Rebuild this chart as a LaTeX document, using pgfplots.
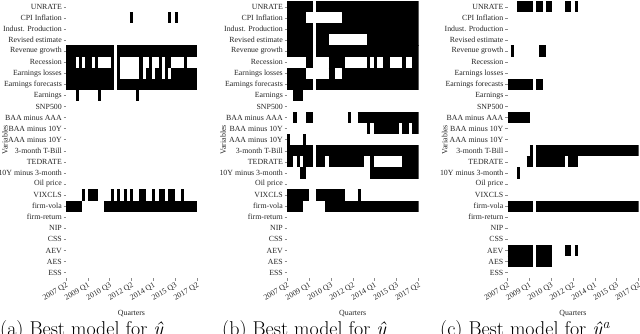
\documentclass[border=0pt]{standalone}
\usepackage{fontspec}
\usepackage{pgfplots}
\pgfplotsset{compat=1.18}
\newfontfamily\tnr{Liberation Serif}

% runs of selected quarters: x = first quarter (0 = 2007 Q2), y = variable row, u = length
\pgfplotstableread{
x y u
20 23 1
32 23 1
34 23 1
0 20 15
16 20 25
0 19 3
4 19 1
6 19 2
9 19 1
14 19 1
16 19 1
23 19 1
26 19 1
29 19 1
31 19 2
37 19 1
0 18 15
16 18 1
23 18 1
25 18 2
28 18 2
31 18 1
33 18 8
0 17 15
16 17 25
3 16 1
10 16 1
22 16 1
5 7 1
7 7 3
14 7 1
16 7 1
18 7 1
20 7 1
23 7 2
27 7 1
29 7 2
32 7 2
36 7 1
0 6 5
12 6 29
}\runsA

\pgfplotstableread{
x y u
0 24 8
9 24 32
0 23 6
17 23 24
0 22 8
9 22 32
0 21 8
9 21 4
25 21 16
0 20 8
9 20 32
6 19 2
13 19 5
25 19 1
27 19 1
30 19 2
36 19 1
39 19 2
0 18 6
13 18 2
17 18 24
0 17 8
9 17 32
2 16 3
2 14 1
6 14 2
19 14 1
22 14 19
25 13 1
27 13 8
36 13 2
39 13 2
0 12 1
5 12 1
0 11 8
9 11 32
0 10 2
3 10 1
5 10 3
9 10 3
13 10 11
26 10 1
36 10 5
4 9 2
26 9 15
0 7 7
9 7 9
22 7 1
0 6 5
12 6 29
}\runsB

\pgfplotstableread{
x y u
3 24 5
9 24 2
12 24 2
18 24 2
21 24 1
1 20 1
10 20 2
0 17 8
9 17 2
0 14 7
7 11 1
9 11 32
6 10 2
9 10 9
19 10 3
3 9 1
0 6 8
9 6 32
0 2 8
9 2 5
18 2 2
21 2 1
0 1 8
9 1 5
}\runsC

\pgfplotsset{
  selmap/.style={
    scale only axis, width=131bp, height=277bp,
    xmin=0, xmax=41, ymin=-0.5, ymax=24.5,
    axis lines*=left, axis line style={draw=none},
    xtick={0,6.8333,13.6667,20.5,27.3333,34.1667,41},
    xticklabels={2007 Q2,2009 Q1,2010 Q3,2012 Q2,2014 Q1,2015 Q3,2017 Q2},
    ytick={0,...,24},
    yticklabels={ESS,AES,AEV,CSS,NIP,firm-return,firm-vola,VIXCLS,Oil price,10Y minus 3-month,TEDRATE,3-month T-Bill,AAA minus 10Y,BAA minus 10Y,BAA minus AAA,SNP500,Earnings,Earnings forecasts,Earnings losses,Recession,Revenue growth,Revised estimate,Indust. Production,CPI Inflation,UNRATE},
    tick align=outside, major tick length=2.5bp,
    tick style={black!45, line width=0.4bp},
    ticklabel style={font=\tnr\fontsize{7.85bp}{9bp}\selectfont, text=black!85},
    x tick label style={rotate=30, anchor=north east, inner sep=1bp},
    y tick label style={inner sep=1.5bp},
    xlabel={Quarters}, ylabel={Variables},
    label style={font=\tnr\fontsize{7.85bp}{9bp}\selectfont, text=black!85},
    xlabel style={yshift=-4bp},
  },
  runs/.style={draw=black, line cap=butt, line width=11.2bp,
    quiver={u=\thisrow{u}, v=0, every arrow/.append style={-, line width=11.2bp, line cap=butt}}},
}

\begin{document}
\begin{tikzpicture}
\path[use as bounding box, clip] (0bp,0bp) rectangle (640bp,334bp);

\begin{axis}[selmap, at={(66bp,55.8bp)}, anchor=south west,
  ylabel style={at={(axis description cs:-0.466,0.5)}, anchor=center}]
\addplot[runs] table {\runsA};
\end{axis}

\begin{axis}[selmap, width=131.5bp, at={(287bp,55.8bp)}, anchor=south west,
  ylabel style={at={(axis description cs:-0.486,0.5)}, anchor=center}]
\addplot[runs] table {\runsB};
\end{axis}

\begin{axis}[selmap, at={(507.5bp,55.8bp)}, anchor=south west,
  ylabel style={at={(axis description cs:-0.48,0.5)}, anchor=center}]
\addplot[runs] table {\runsC};
\end{axis}

\node[anchor=base west, inner sep=0, font=\fontsize{20bp}{24bp}\selectfont] at (0bp,-1.5bp) {(a) Best model for \textit{ŷ}};
\node[anchor=base west, inner sep=0, font=\fontsize{20bp}{24bp}\selectfont] at (222bp,-1.5bp) {(b) Best model for \textit{ŷ}};
\node[anchor=base west, inner sep=0, font=\fontsize{20bp}{24bp}\selectfont] at (440bp,-1.5bp) {(c) Best model for \textit{ŷ}\textsuperscript{\textit{a}}};
\end{tikzpicture}
\end{document}
